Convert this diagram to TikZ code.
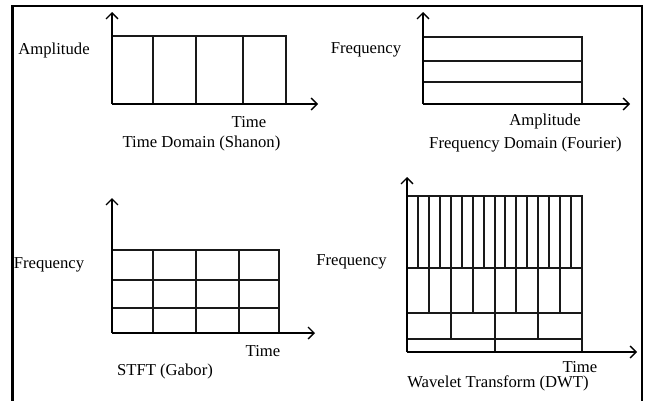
\documentclass[tikz,border=0pt]{standalone}
\usepackage{fontspec}
\setmainfont{Liberation Serif}
\usetikzlibrary{arrows.meta}
\begin{document}
\begin{tikzpicture}[x=0.75pt,y=-0.75pt,
  gridline/.style={line width=0.95pt, draw=black!90},
  axisline/.style={line width=0.95pt, -{Straight Barb[length=4.5pt,width=9pt]}},
  lbl/.style={font=\fontsize{12.5}{15}\selectfont, inner sep=0pt, text=black},
  frameline/.style={line width=2.2pt}]
\useasboundingbox (0,0) rectangle (645,400);
% outer frame
\draw[frameline] (12.5,401) -- (12.5,6) -- (642,6) -- (642,401);

% ---------- Panel 1: Time Domain ----------
\coordinate (o1) at (112,104);
\coordinate (y1) at (112,12);
\coordinate (x1) at (318,104);
\draw[gridline] (112,36) -- (286,36) -- (286,104);
\foreach \x in {153,196,243} \draw[gridline] (\x,36) -- (\x,104);
\draw[axisline] (o1) -- (y1);
\draw[axisline] (o1) -- (x1);
\node[lbl] (a1) at (54,50) {Amplitude};
\node[lbl] (t1) at (249,122) {Time};
\node[lbl] (c1) at (201.5,143) {Time Domain (Shanon)};

% ---------- Panel 2: Frequency Domain ----------
\coordinate (o2) at (423,104);
\coordinate (y2) at (423,12);
\coordinate (x2) at (630,104);
\draw[gridline] (423,37) -- (582,37) -- (582,104);
\foreach \y in {61,82} \draw[gridline] (423,\y) -- (582,\y);
\draw[axisline] (o2) -- (y2);
\draw[axisline] (o2) -- (x2);
\node[lbl] (f2) at (366,50) {Frequency};
\node[lbl] (a2) at (545,121) {Amplitude};
\node[lbl] (c2) at (525.5,145) {Frequency Domain (Fourier)};

% ---------- Panel 3: STFT ----------
\coordinate (o3) at (112,333);
\coordinate (y3) at (112,198);
\coordinate (x3) at (315,333);
\draw[gridline] (112,250) -- (279,250) -- (279,333);
\foreach \x in {153,196,239} \draw[gridline] (\x,250) -- (\x,333);
\foreach \y in {280,308} \draw[gridline] (112,\y) -- (279,\y);
\draw[axisline] (o3) -- (y3);
\draw[axisline] (o3) -- (x3);
\node[lbl] (f3) at (49,265) {Frequency};
\node[lbl] (t3) at (263,351) {Time};
\node[lbl] (c3) at (165,371) {STFT (Gabor)};

% ---------- Panel 4: Wavelet ----------
\coordinate (o4) at (407,352);
\coordinate (y4) at (407,177);
\coordinate (x4) at (637,352);
\draw[gridline] (407,196) -- (582,196) -- (582,352);
\foreach \y in {268,313,339} \draw[gridline] (407,\y) -- (582,\y);
\foreach \i in {1,...,15} \draw[gridline] ({407+round(\i*175/16)},196) -- ({407+round(\i*175/16)},268);
\foreach \i in {1,...,7} \draw[gridline] ({407+round(\i*175/8)},268) -- ({407+round(\i*175/8)},313);
\foreach \i in {1,...,3} \draw[gridline] ({407+round(\i*175/4)},313) -- ({407+round(\i*175/4)},339);
\draw[gridline] (495,339) -- (495,352);
\draw[axisline] (o4) -- (y4);
\draw[axisline] (o4) -- (x4);
\node[lbl] (f4) at (351.5,262) {Frequency};
\node[lbl] (t4) at (580,367) {Time};
\node[lbl] (c4) at (498,383) {Wavelet Transform (DWT)};
\end{tikzpicture}
\end{document}
